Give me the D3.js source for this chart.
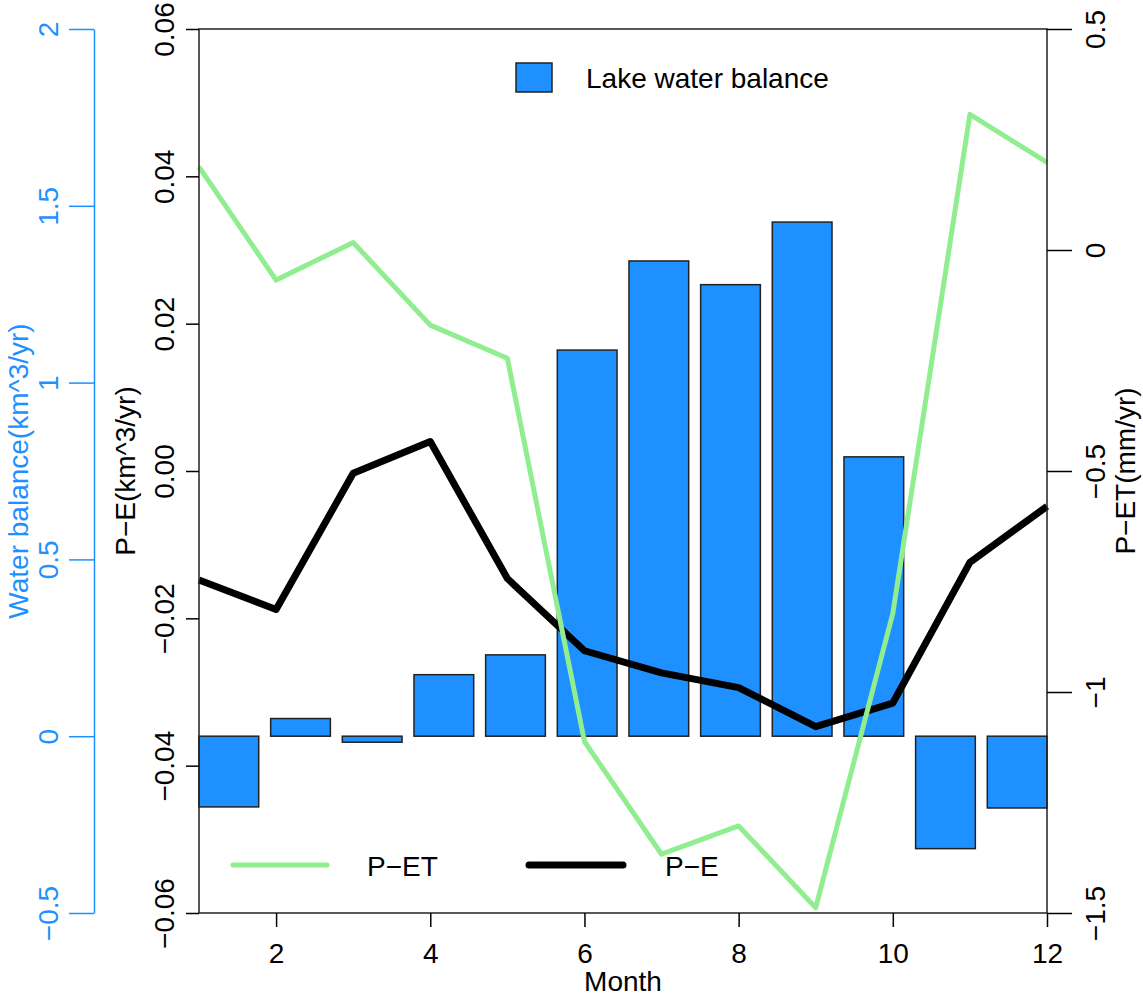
<!DOCTYPE html>
<html>
<head>
<meta charset="utf-8">
<script src="https://cdn.jsdelivr.net/npm/d3@7/dist/d3.min.js"></script>
<style>
  html, body { margin: 0; padding: 0; background: #fff; }
  svg { display: block; font-family: "Liberation Sans", Arial, Helvetica, sans-serif; }
</style>
</head>
<body>
<svg id="chart" width="1143" height="1000"></svg>
<script>
// ---- data ----
const months = [1, 2, 3, 4, 5, 6, 7, 8, 9, 10, 11, 12];
const waterBalance = [-0.20, 0.05, -0.017, 0.174, 0.23, 1.092, 1.344, 1.277, 1.454, 0.79, -0.318, -0.203];
const pe = [-0.0148, -0.0188, -0.0003, 0.0040, -0.0146, -0.0244, -0.0274, -0.0294, -0.0347, -0.0315, -0.0124, -0.0048];
const pet = [0.188, -0.068, 0.017, -0.170, -0.245, -1.112, -1.367, -1.303, -1.488, -0.822, 0.307, 0.198];
const xTicks = [2, 4, 6, 8, 10, 12];
const wbTicks = [-0.5, 0, 0.5, 1, 1.5, 2];
const peTicks = [-0.06, -0.04, -0.02, 0, 0.02, 0.04, 0.06];
const petTicks = [-1.5, -1, -0.5, 0, 0.5];
const legendTop = ["Lake water balance"];
const legendBottom = ["P\u2212ET", "P\u2212E"];

// ---- layout ----
const L = 199, R = 1047, T = 29, B = 913;
const BLUE = "#1E90FF", GREEN = "#90EE90";
const svg = d3.select("#chart");

const x = d3.scaleLinear().domain([1, 12]).range([L, R]);
const xb = d3.scaleBand().domain(months).range([L, R]).paddingInner(1 / 6).paddingOuter(0);
const yWB = d3.scaleLinear().domain([-0.5, 2]).range([B, T]);
const yPE = d3.scaleLinear().domain([-0.06, 0.06]).range([B, T]);
const yPET = d3.scaleLinear().domain([-1.5, 0.5]).range([B, T]);

// ---- bars ----
svg.append("g").selectAll("rect").data(months).join("rect")
  .attr("x", d => xb(d))
  .attr("width", xb.bandwidth())
  .attr("y", (d, i) => Math.min(yWB(waterBalance[i]), yWB(0)))
  .attr("height", (d, i) => Math.abs(yWB(waterBalance[i]) - yWB(0)))
  .attr("fill", BLUE).attr("stroke", "#222").attr("stroke-width", 1.5);

// ---- lines ----
const linePE = d3.line().x((d, i) => x(months[i])).y(d => yPE(d));
const linePET = d3.line().x((d, i) => x(months[i])).y(d => yPET(d));
svg.append("path").datum(pe).attr("d", linePE)
  .attr("fill", "none").attr("stroke", "#000").attr("stroke-width", 7).attr("stroke-linejoin", "round");
svg.append("path").datum(pet).attr("d", linePET)
  .attr("fill", "none").attr("stroke", GREEN).attr("stroke-width", 5).attr("stroke-linejoin", "round");

// ---- box ----
svg.append("rect").attr("x", L).attr("y", T).attr("width", R - L).attr("height", B - T)
  .attr("fill", "none").attr("stroke", "#222").attr("stroke-width", 1.5);

function styleAxis(g, color, fontSize) {
  g.selectAll("path, line").attr("stroke", color).attr("stroke-width", 1.5);
  g.selectAll("text").attr("fill", color).style("font-size", fontSize + "px")
    .style("font-family", "'Liberation Sans', Arial, Helvetica, sans-serif");
}

// bottom axis
const gx = svg.append("g").attr("transform", `translate(0,${B})`)
  .call(d3.axisBottom(x).tickValues(xTicks).tickSize(14).tickSizeOuter(0).tickPadding(12).tickFormat(d3.format("d")));
gx.select(".domain").remove();
styleAxis(gx, "#000", 28);
gx.selectAll("text").attr("dy", 0).attr("y", 50);

// inner left P-E axis
const gpe = svg.append("g").attr("transform", `translate(${L},0)`)
  .call(d3.axisLeft(yPE).tickValues(peTicks).tickSize(13).tickSizeOuter(0).tickFormat(d3.format(".2f")));
gpe.select(".domain").remove();
styleAxis(gpe, "#000", 28);
gpe.selectAll("text").attr("x", null).attr("dy", null).attr("text-anchor", "middle")
  .attr("transform", "translate(-25,0) rotate(-90)");

// outer blue axis
const gwb = svg.append("g").attr("transform", `translate(94,0)`)
  .call(d3.axisLeft(yWB).tickValues(wbTicks).tickSize(25).tickSizeOuter(0).tickFormat(d3.format("")));
styleAxis(gwb, BLUE, 28);
gwb.selectAll("text").attr("x", null).attr("dy", null).attr("text-anchor", "middle")
  .attr("transform", "translate(-36,0) rotate(-90)");

// right P-ET axis
const gpet = svg.append("g").attr("transform", `translate(${R},0)`)
  .call(d3.axisRight(yPET).tickValues(petTicks).tickSize(25).tickSizeOuter(0).tickFormat(d3.format("")));
gpet.select(".domain").remove();
styleAxis(gpet, "#000", 28);
gpet.selectAll("text").attr("x", null).attr("dy", null).attr("text-anchor", "middle")
  .attr("transform", "translate(58,0) rotate(-90)");

// ---- axis titles ----
const font = "'Liberation Sans', Arial, Helvetica, sans-serif";
function title(txt, tx, ty, rot, color) {
  svg.append("text").attr("transform", `translate(${tx},${ty}) rotate(${rot})`)
    .attr("text-anchor", "middle").attr("fill", color)
    .style("font-size", "28px").style("font-family", font).text(txt);
}
title("Month", (L + R) / 2, 991, 0, "#000");
title("P\u2212E(km^3/yr)", 135, (T + B) / 2, -90, "#000");
title("Water balance(km^3/yr)", 28, (T + B) / 2, -90, BLUE);
title("P\u2212ET(mm/yr)", 1135, (T + B) / 2, -90, "#000");

// ---- legends ----
const lt = svg.append("g");
lt.selectAll("rect").data(legendTop).join("rect")
  .attr("x", 516).attr("y", 63).attr("width", 36).attr("height", 29)
  .attr("fill", BLUE).attr("stroke", "#222").attr("stroke-width", 1.5);
lt.selectAll("text").data(legendTop).join("text")
  .attr("x", 586).attr("y", 88).style("font-size", "28px").style("font-family", font).text(d => d);

const lb = svg.append("g");
const lbX = [233, 529], lbTextX = [367, 665], lbColor = [GREEN, "#000"], lbW = [5, 7];
lb.selectAll("line").data(legendBottom).join("line")
  .attr("x1", (d, i) => lbX[i]).attr("x2", (d, i) => lbX[i] + 94)
  .attr("y1", 865).attr("y2", 865)
  .attr("stroke", (d, i) => lbColor[i]).attr("stroke-width", (d, i) => lbW[i]).attr("stroke-linecap", "round");
lb.selectAll("text").data(legendBottom).join("text")
  .attr("x", (d, i) => lbTextX[i]).attr("y", 876)
  .style("font-size", "28px").style("font-family", font).text(d => d);
</script>
</body>
</html>
